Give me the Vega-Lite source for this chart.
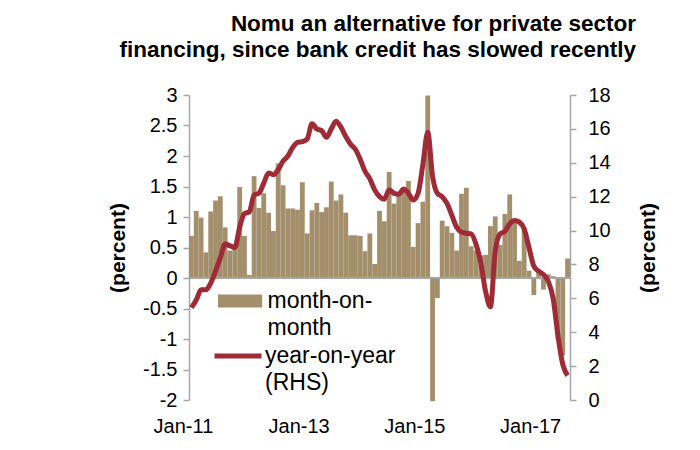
{
  "$schema": "https://vega.github.io/schema/vega-lite/v6.json",
  "width": 381,
  "height": 305,
  "autosize": {"type": "none"},
  "padding": {"left": 189, "top": 95, "right": 130, "bottom": 50},
  "background": "white",
  "config": {
    "view": {"stroke": null},
    "font": "Liberation Sans",
    "style": {"guide-label": {"lineHeight": 27}}
  },
  "title": {
    "text": ["Nomu an alternative for private sector", "financing, since bank credit has slowed recently"],
    "anchor": "end",
    "frame": "group",
    "align": "right",
    "dx": 66,
    "offset": 24,
    "fontSize": 22.5,
    "fontWeight": "bold",
    "font": "Liberation Sans",
    "color": "black",
    "lineHeight": 26
  },
  "data": {
    "values": [
      {"date": "Jan-11", "mom": 0.69, "yoy": 5.45},
      {"date": "Feb-11", "mom": 1.10, "yoy": 5.9},
      {"date": "Mar-11", "mom": 0.99, "yoy": 6.5},
      {"date": "Apr-11", "mom": 0.42, "yoy": 6.5},
      {"date": "May-11", "mom": 1.09, "yoy": 6.9},
      {"date": "Jun-11", "mom": 1.27, "yoy": 7.6},
      {"date": "Jul-11", "mom": 1.34, "yoy": 8.4},
      {"date": "Aug-11", "mom": 0.83, "yoy": 9.2},
      {"date": "Sep-11", "mom": 0.45, "yoy": 9.1},
      {"date": "Oct-11", "mom": 0.55, "yoy": 9.0},
      {"date": "Nov-11", "mom": 1.49, "yoy": 10.2},
      {"date": "Dec-11", "mom": 0.69, "yoy": 11.0},
      {"date": "Jan-12", "mom": 0.05, "yoy": 11.1},
      {"date": "Feb-12", "mom": 1.67, "yoy": 12.1},
      {"date": "Mar-12", "mom": 1.15, "yoy": 12.2},
      {"date": "Apr-12", "mom": 1.39, "yoy": 12.8},
      {"date": "May-12", "mom": 1.07, "yoy": 13.4},
      {"date": "Jun-12", "mom": 0.77, "yoy": 13.3},
      {"date": "Jul-12", "mom": 1.88, "yoy": 13.6},
      {"date": "Aug-12", "mom": 1.52, "yoy": 14.1},
      {"date": "Sep-12", "mom": 1.14, "yoy": 14.4},
      {"date": "Oct-12", "mom": 1.14, "yoy": 14.9},
      {"date": "Nov-12", "mom": 1.12, "yoy": 15.2},
      {"date": "Dec-12", "mom": 1.57, "yoy": 15.25},
      {"date": "Jan-13", "mom": 0.73, "yoy": 15.4},
      {"date": "Feb-13", "mom": 1.11, "yoy": 16.3},
      {"date": "Mar-13", "mom": 1.23, "yoy": 16.0},
      {"date": "Apr-13", "mom": 1.08, "yoy": 15.9},
      {"date": "May-13", "mom": 1.16, "yoy": 15.5},
      {"date": "Jun-13", "mom": 1.58, "yoy": 16.0},
      {"date": "Jul-13", "mom": 1.27, "yoy": 16.45},
      {"date": "Aug-13", "mom": 1.37, "yoy": 16.1},
      {"date": "Sep-13", "mom": 1.07, "yoy": 15.55},
      {"date": "Oct-13", "mom": 0.70, "yoy": 15.1},
      {"date": "Nov-13", "mom": 0.70, "yoy": 14.8},
      {"date": "Dec-13", "mom": 0.69, "yoy": 14.2},
      {"date": "Jan-14", "mom": 0.44, "yoy": 13.5},
      {"date": "Feb-14", "mom": 0.73, "yoy": 13.05},
      {"date": "Mar-14", "mom": 0.23, "yoy": 12.4},
      {"date": "Apr-14", "mom": 1.10, "yoy": 12.0},
      {"date": "May-14", "mom": 0.93, "yoy": 11.85},
      {"date": "Jun-14", "mom": 1.74, "yoy": 12.4},
      {"date": "Jul-14", "mom": 1.22, "yoy": 12.2},
      {"date": "Aug-14", "mom": 1.35, "yoy": 12.15},
      {"date": "Sep-14", "mom": 1.45, "yoy": 12.45},
      {"date": "Oct-14", "mom": 1.59, "yoy": 12.2},
      {"date": "Nov-14", "mom": 0.51, "yoy": 11.8},
      {"date": "Dec-14", "mom": 0.90, "yoy": 12.2},
      {"date": "Jan-15", "mom": 1.25, "yoy": 13.9},
      {"date": "Feb-15", "mom": 2.99, "yoy": 15.8},
      {"date": "Mar-15", "mom": -2.02, "yoy": 13.2},
      {"date": "Apr-15", "mom": -0.33, "yoy": 12.2},
      {"date": "May-15", "mom": 0.94, "yoy": 12.0},
      {"date": "Jun-15", "mom": 0.85, "yoy": 11.6},
      {"date": "Jul-15", "mom": 0.74, "yoy": 10.9},
      {"date": "Aug-15", "mom": 0.45, "yoy": 10.2},
      {"date": "Sep-15", "mom": 1.38, "yoy": 9.9},
      {"date": "Oct-15", "mom": 1.48, "yoy": 9.84},
      {"date": "Nov-15", "mom": 0.52, "yoy": 9.8},
      {"date": "Dec-15", "mom": 0.45, "yoy": 9.2},
      {"date": "Jan-16", "mom": 0.37, "yoy": 8.1},
      {"date": "Feb-16", "mom": 0.38, "yoy": 6.4},
      {"date": "Mar-16", "mom": 0.85, "yoy": 5.5},
      {"date": "Apr-16", "mom": 1.01, "yoy": 8.8},
      {"date": "May-16", "mom": 0.54, "yoy": 9.8},
      {"date": "Jun-16", "mom": 1.05, "yoy": 9.95},
      {"date": "Jul-16", "mom": 1.37, "yoy": 10.4},
      {"date": "Aug-16", "mom": 0.95, "yoy": 10.6},
      {"date": "Sep-16", "mom": 0.28, "yoy": 10.5},
      {"date": "Oct-16", "mom": 0.82, "yoy": 10.1},
      {"date": "Nov-16", "mom": 0.12, "yoy": 9.0},
      {"date": "Dec-16", "mom": -0.28, "yoy": 7.9},
      {"date": "Jan-17", "mom": 0.10, "yoy": 7.6},
      {"date": "Feb-17", "mom": -0.19, "yoy": 7.4},
      {"date": "Mar-17", "mom": 0.06, "yoy": 7.0},
      {"date": "Apr-17", "mom": 0.03, "yoy": 6.0},
      {"date": "May-17", "mom": -1.0, "yoy": 3.8},
      {"date": "Jun-17", "mom": -1.27, "yoy": 2.1},
      {"date": "Jul-17", "mom": 0.32, "yoy": 1.45}
    ]
  },
  "layer": [
    {
      "layer": [
        {
          "mark": {"type": "bar"},
          "encoding": {
            "x": {
              "field": "date", "type": "ordinal", "sort": null,
              "scale": {"paddingInner": 0, "paddingOuter": 0},
              "axis": {
                "values": ["Jan-11", "Jan-13", "Jan-15", "Jan-17"],
                "title": null, "domain": false, "ticks": false, "tickSize": 0,
                "labelAngle": 0, "labelFontSize": 20, "labelPadding": 16,
                "bandPosition": 0, "labelOffset": -8, "labelColor": "black",
                "labelFont": "Liberation Sans", "labelOverlap": false
              }
            },
            "y": {
              "field": "mom", "type": "quantitative",
              "scale": {"domain": [-2, 3], "nice": false},
              "axis": {
                "orient": "left",
                "values": [-2, -1.5, -1, -0.5, 0, 0.5, 1, 1.5, 2, 2.5, 3],
                "labelExpr": "'' + datum.value",
                "labelOverlap": false,
                "title": "(percent)", "titleFontSize": 21, "titleFontWeight": "bold",
                "titleColor": "black", "titleFont": "Liberation Sans", "titlePadding": 14,
                "grid": false, "domainColor": "#A6A6A6", "domainWidth": 1.5,
                "tickColor": "#A6A6A6", "tickSize": 6, "tickWidth": 1.5,
                "labelFontSize": 20, "labelColor": "black", "labelPadding": 6,
                "labelFont": "Liberation Sans"
              }
            },
            "fill": {
              "datum": "month-on-month",
              "scale": {"domain": ["month-on-month"], "range": ["#A48F6C"]},
              "legend": {
                "orient": "none", "legendX": 22.5, "legendY": 193, "title": null,
                "symbolType": "M-0.5,-0.5H2.9V0.5H-0.5Z", "symbolSize": 676,
                "symbolStrokeWidth": 0,
                "labelExpr": "['month-on-', 'month']",
                "labelFontSize": 23, "labelFont": "Liberation Sans", "labelColor": "black",
                "labelOffset": 30, "padding": 0
              }
            }
          }
        },
        {
          "mark": {"type": "rule", "color": "#A6A6A6", "strokeWidth": 1.5},
          "encoding": {
            "y": {
              "datum": 0, "type": "quantitative",
              "axis": {
                "orient": "left",
                "values": [-2, -1.5, -1, -0.5, 0, 0.5, 1, 1.5, 2, 2.5, 3],
                "labelExpr": "'' + datum.value",
                "labelOverlap": false,
                "title": "(percent)", "titleFontSize": 21, "titleFontWeight": "bold",
                "titleColor": "black", "titleFont": "Liberation Sans", "titlePadding": 14,
                "grid": false, "domainColor": "#A6A6A6", "domainWidth": 1.5,
                "tickColor": "#A6A6A6", "tickSize": 6, "tickWidth": 1.5,
                "labelFontSize": 20, "labelColor": "black", "labelPadding": 6,
                "labelFont": "Liberation Sans"
              }
            }
          }
        }
      ]
    },
    {
      "mark": {"type": "line", "interpolate": "monotone", "strokeWidth": 5},
      "encoding": {
        "x": {"field": "date", "type": "ordinal", "sort": null},
        "y": {
          "field": "yoy", "type": "quantitative",
          "scale": {"domain": [0, 18], "nice": false},
          "axis": {
            "orient": "right",
            "values": [0, 2, 4, 6, 8, 10, 12, 14, 16, 18],
            "labelOverlap": false,
            "title": "(percent)", "titleFontSize": 21, "titleFontWeight": "bold",
            "titleColor": "black", "titleFont": "Liberation Sans", "titleAngle": 270,
            "titlePadding": 48,
            "grid": false, "domainColor": "#A6A6A6", "domainWidth": 1.5,
            "tickColor": "#A6A6A6", "tickSize": 6, "tickWidth": 1.5,
            "labelFontSize": 20, "labelColor": "black", "labelPadding": 12,
            "labelFont": "Liberation Sans"
          }
        },
        "stroke": {
          "datum": "year-on-year (RHS)",
          "scale": {"domain": ["year-on-year (RHS)"], "range": ["#9E2B36"]},
          "legend": {
            "orient": "none", "legendX": 23, "legendY": 235, "title": null,
            "symbolType": "stroke", "symbolSize": 2209, "symbolStrokeWidth": 5,
            "labelExpr": "['year-on-year', '(RHS)']",
            "labelFontSize": 23, "labelFont": "Liberation Sans", "labelColor": "black",
            "labelOffset": 1, "padding": 0
          }
        }
      }
    }
  ],
  "resolve": {"scale": {"y": "independent", "fill": "independent", "stroke": "independent"}}
}
